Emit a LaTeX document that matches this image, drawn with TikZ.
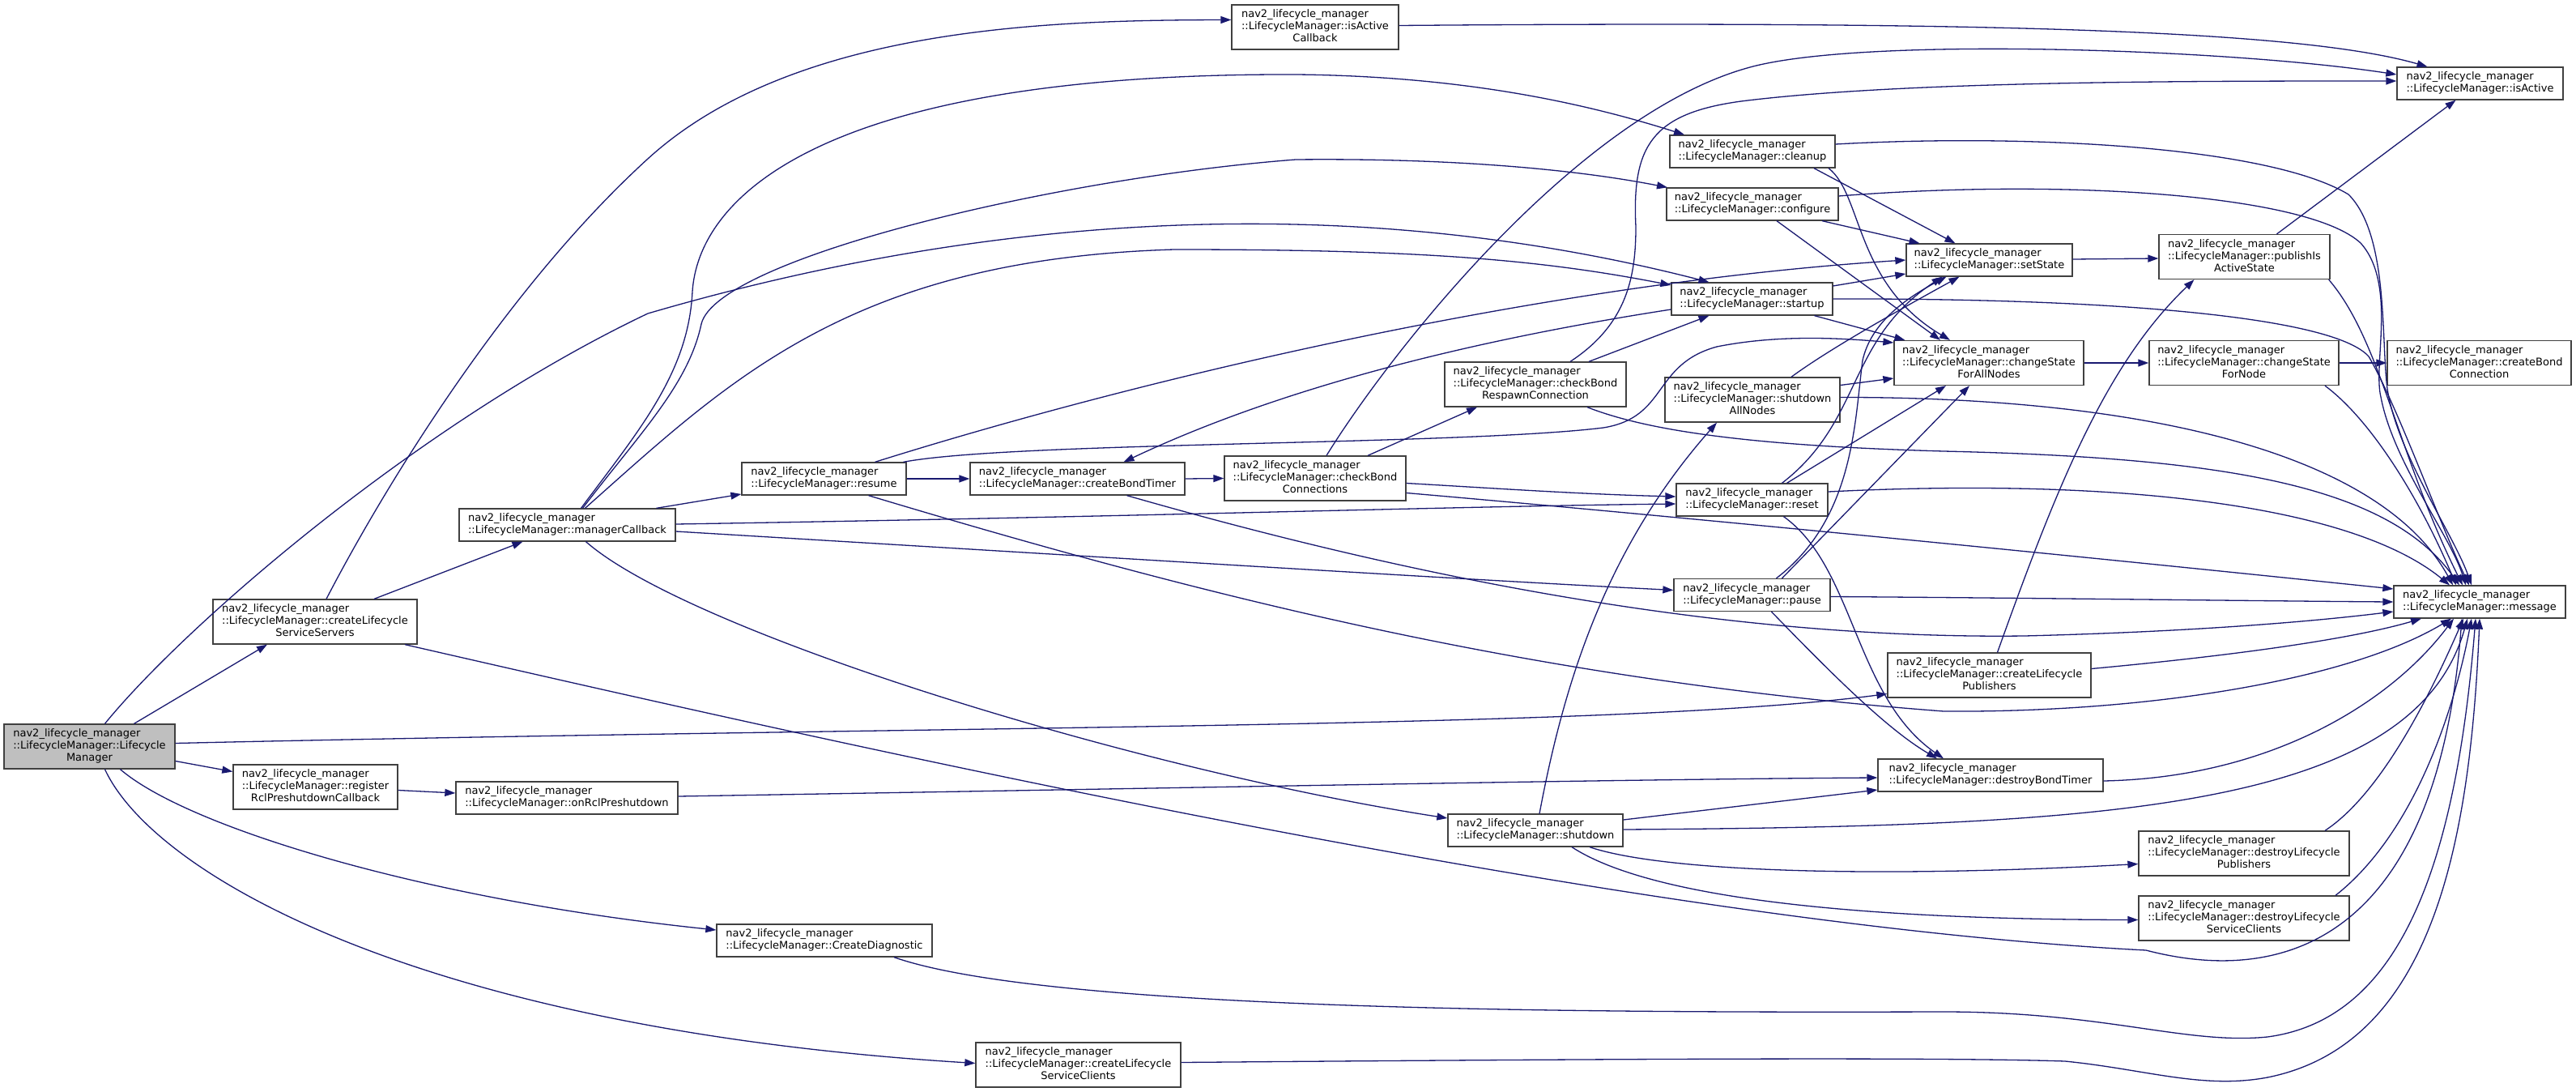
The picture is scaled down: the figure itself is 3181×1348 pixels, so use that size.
\documentclass[tikz,border=0pt]{standalone}
\usepackage{fontspec}
\newfontfamily\dfont{DejaVu Sans}
\usetikzlibrary{arrows.meta}
\definecolor{edgec}{HTML}{191970}
\definecolor{boxc}{HTML}{404040}
\definecolor{lmgray}{HTML}{BFBFBF}
\newcommand\twol[1]{\begin{tabular}{@{}l@{}}nav2\_lifecycle\_manager\\#1\end{tabular}}
\newcommand\threel[2]{\begin{tabular}{@{}l@{}}nav2\_lifecycle\_manager\\#1\\\multicolumn{1}{@{}c@{}}{#2}\end{tabular}}
\tikzset{
  fn/.style={draw=boxc, fill=white, line width=1.3pt, inner sep=0pt, minimum height=40pt,
             font=\dfont\fontsize{13}{15}\selectfont},
  fn3/.style={fn, minimum height=55pt},
  e/.style={draw=edgec, line width=1.3pt, -{Triangle[length=13pt,width=9pt]}}
}
\begin{document}
\begin{tikzpicture}[x=1pt,y=-1pt]
\fill[white] (0,0) rectangle (3181,1348);
\useasboundingbox (0,0) rectangle (3181,1348);

% nodes
\node[fn3, fill=lmgray, minimum width=211pt] (lm) at (110.5,921.5) {\threel{::LifecycleManager::Lifecycle}{Manager}};
\node[fn3, minimum width=252pt] (clss) at (389,767.5) {\threel{::LifecycleManager::createLifecycle}{ServiceServers}};
\node[fn3, minimum width=203pt] (reg) at (389.5,971.5) {\threel{::LifecycleManager::register}{RclPreshutdownCallback}};
\node[fn, minimum width=274pt] (onrcl) at (700,985) {\twol{::LifecycleManager::onRclPreshutdown}};
\node[fn, minimum width=266pt] (cdiag) at (1018,1161) {\twol{::LifecycleManager::CreateDiagnostic}};
\node[fn3, minimum width=253pt] (clsc) at (1331.5,1314.5) {\threel{::LifecycleManager::createLifecycle}{ServiceClients}};
\node[fn, minimum width=267pt] (mcb) at (700.5,648) {\twol{::LifecycleManager::managerCallback}};
\node[fn3, minimum width=206pt] (iacb) at (1624,33.5) {\threel{::LifecycleManager::isActive}{Callback}};
\node[fn, minimum width=203pt] (resume) at (1017.5,591) {\twol{::LifecycleManager::resume}};
\node[fn, minimum width=265pt] (cbt) at (1330.5,591) {\twol{::LifecycleManager::createBondTimer}};
\node[fn3, minimum width=224pt] (cbc) at (1624,590.5) {\threel{::LifecycleManager::checkBond}{Connections}};
\node[fn3, minimum width=224pt] (cbrc) at (1896,474.5) {\threel{::LifecycleManager::checkBond}{RespawnConnection}};
\node[fn, minimum width=204pt] (cleanup) at (2164,187) {\twol{::LifecycleManager::cleanup}};
\node[fn, minimum width=212pt] (configure) at (2164,252) {\twol{::LifecycleManager::configure}};
\node[fn, minimum width=199pt] (startup) at (2163.5,369) {\twol{::LifecycleManager::startup}};
\node[fn3, minimum width=216pt] (sdan) at (2164,493.5) {\threel{::LifecycleManager::shutdown}{AllNodes}};
\node[fn, minimum width=187pt] (reset) at (2163.5,617) {\twol{::LifecycleManager::reset}};
\node[fn, minimum width=193pt] (pause) at (2163.5,734.5) {\twol{::LifecycleManager::pause}};
\node[fn, minimum width=216pt] (shutdown) at (1896,1025) {\twol{::LifecycleManager::shutdown}};
\node[fn3, minimum width=251pt] (clp) at (2456.5,833.5) {\threel{::LifecycleManager::createLifecycle}{Publishers}};
\node[fn, minimum width=278pt] (dbt) at (2458,957) {\twol{::LifecycleManager::destroyBondTimer}};
\node[fn, minimum width=205pt] (setstate) at (2456.5,321) {\twol{::LifecycleManager::setState}};
\node[fn3, minimum width=234pt] (chall) at (2456,448) {\threel{::LifecycleManager::changeState}{ForAllNodes}};
\node[fn3, minimum width=211pt] (pias) at (2771.5,317) {\threel{::LifecycleManager::publishIs}{ActiveState}};
\node[fn3, minimum width=234pt] (chnode) at (2771,448) {\threel{::LifecycleManager::changeState}{ForNode}};
\node[fn3, minimum width=227pt] (cbcon) at (3061.5,448) {\threel{::LifecycleManager::createBond}{Connection}};
\node[fn, minimum width=205pt] (isactive) at (3062.5,103) {\twol{::LifecycleManager::isActive}};
\node[fn, minimum width=212pt] (msg) at (3062,743) {\twol{::LifecycleManager::message}};
\node[fn3, minimum width=260pt] (dlp) at (2771,1053.5) {\threel{::LifecycleManager::destroyLifecycle}{Publishers}};
\node[fn3, minimum width=260pt] (dlsc) at (2771,1133.5) {\threel{::LifecycleManager::destroyLifecycle}{ServiceClients}};

% edges from LifecycleManager
\draw[e] ([xshift=55pt]lm.north) -- ([xshift=-59pt]clss.south);
\draw[e] ([xshift=19pt]lm.north) .. controls (230,770) and (520,520) .. (800,387)
   .. controls (1200,270) and (1650,230) .. ([xshift=-53pt]startup.north);
\draw[e] ([yshift=-18pt]lm.east) -- ([yshift=19pt]reg.west);
\draw[e] ([xshift=38pt]lm.south) .. controls (230,1020) and (520,1110) .. ([yshift=13pt]cdiag.west);
\draw[e] ([xshift=19pt]lm.south) .. controls (190,1080) and (520,1270) .. ([yshift=2pt]clsc.west);
\draw[e] ([yshift=4pt]lm.east) .. controls (1200,895) and (2000,900) .. ([yshift=-23pt]clp.west);

\draw[e] ([yshift=-4pt]reg.east) -- ([yshift=6pt]onrcl.west);
\draw[e] ([yshift=2pt]onrcl.east) .. controls (1500,972) and (2000,962) .. ([yshift=-3pt]dbt.west);

% createLifecycleServiceServers
\draw[e] ([xshift=14pt]clss.north) .. controls (470,610) and (620,360) .. (800,196)
   .. controls (980,32) and (1300,25) .. ([yshift=9pt]iacb.west);
\draw[e] ([xshift=73pt]clss.north) -- ([xshift=-55pt]mcb.south);
\draw[e] ([xshift=111pt]clss.south) .. controls (1000,910) and (2000,1140) .. (2650,1173)
   .. controls (2830,1220) and (3010,1150) .. ([xshift=-22pt]msg.south);

% managerCallback
\draw[e] ([xshift=110pt]mcb.north) -- ([yshift=-19pt]resume.west);
\draw[e] ([xshift=17pt]mcb.north) .. controls (790,530) and (850,460) .. (855,360)
   .. controls (862,250) and (1000,90) .. (1600,92)
   .. controls (1800,94) and (1950,125) .. ([xshift=-84pt]cleanup.north);
\draw[e] ([xshift=19pt]mcb.north) .. controls (790,535) and (850,475) .. (866,400)
   .. controls (885,320) and (1300,220) .. (1600,197)
   .. controls (1800,195) and (1950,210) .. ([xshift=-105pt]configure.north);
\draw[e] ([xshift=22pt]mcb.north) .. controls (900,470) and (1050,320) .. (1450,308)
   .. controls (1750,308) and (1900,320) .. ([yshift=17pt]startup.west);
\draw[e] ([yshift=1pt]mcb.east) .. controls (1400,638) and (1800,625) .. ([yshift=-5pt]reset.west);
\draw[e] ([yshift=-8pt]mcb.east) .. controls (1400,690) and (1800,715) .. ([yshift=6pt]pause.west);
\draw[e] ([xshift=23pt]mcb.south) .. controls (850,780) and (1400,950) .. ([yshift=15pt]shutdown.west);

% resume
\draw[e] (resume.east) -- (cbt.west);
\draw[e] ([xshift=63pt]resume.north) .. controls (1400,470) and (1900,350) .. (setstate.west);
\draw[e] ([xshift=98pt]resume.north) .. controls (1250,545) and (1800,550) .. (1980,528)
   .. controls (2060,515) and (2040,450) .. (2120,428)
   .. controls (2200,412) and (2280,418) .. ([yshift=25pt]chall.west);
\draw[e] ([xshift=55pt]resume.south) .. controls (1500,740) and (1900,840) .. (2400,878)
   .. controls (2650,880) and (2900,840) .. ([xshift=-35pt]msg.south);

% createBondTimer
\draw[e] (cbt.east) -- (cbc.west);
\draw[e] ([xshift=61pt]cbt.south) .. controls (1700,700) and (2100,790) .. (2500,785)
   .. controls (2700,780) and (2850,768) .. ([yshift=-12pt]msg.west);

% checkBondConnections
\draw[e] ([xshift=65pt]cbc.north) -- ([xshift=-72pt]cbrc.south);
\draw[e] ([xshift=14pt]cbc.north) .. controls (1720,430) and (1950,140) .. (2161,83)
   .. controls (2300,45) and (2750,60) .. ([yshift=11pt]isactive.west);
\draw[e] ([yshift=-6pt]cbc.east) .. controls (1850,603) and (1950,610) .. ([yshift=4pt]reset.west);
\draw[e] ([yshift=-18pt]cbc.east) .. controls (2100,640) and (2600,690) .. ([yshift=16pt]msg.west);

% checkBondRespawnConnection
\draw[e] ([xshift=43pt]cbrc.north) .. controls (2010,400) and (2020,340) .. (2020,280)
   .. controls (2015,180) and (2040,140) .. (2150,125)
   .. controls (2350,100) and (2700,100) .. ([yshift=3pt]isactive.west);
\draw[e] ([xshift=66pt]cbrc.north) -- ([xshift=-53pt]startup.south);
\draw[e] ([xshift=64pt]cbrc.south) .. controls (2030,530) and (2150,550) .. (2400,557)
   .. controls (2750,565) and (2950,600) .. ([xshift=-25pt]msg.north);

% startup
\draw[e] ([yshift=-13pt]startup.west) .. controls (1850,415) and (1600,470) .. ([xshift=57pt]cbt.north);
\draw[e] ([yshift=16pt]startup.east) -- ([yshift=-17pt]setstate.west);
\draw[e] ([xshift=77pt]startup.south) -- ([xshift=14pt]chall.north west);
\draw[e] (startup.east) .. controls (2600,368) and (2880,390) .. (2925,440)
   .. controls (2960,500) and (3010,640) .. ([xshift=-13pt]msg.north);

% cleanup
\draw[e] ([xshift=76pt]cleanup.south) -- ([xshift=-42pt]setstate.north);
\draw[e] ([xshift=94pt]cleanup.south) .. controls (2300,240) and (2290,350) .. ([xshift=-48pt]chall.north);
\draw[e] ([yshift=9pt]cleanup.east) .. controls (2500,165) and (2800,180) .. (2900,240)
   .. controls (2950,290) and (2940,420) .. (2948,480)
   .. controls (2960,560) and (3030,660) .. ([xshift=-10pt]msg.north);

% configure
\draw[e] ([xshift=86pt]configure.south) -- ([xshift=-86pt]setstate.north);
\draw[e] ([xshift=30pt]configure.south) -- ([xshift=-60pt]chall.north);
\draw[e] ([yshift=10pt]configure.east) .. controls (2550,220) and (2850,240) .. (2915,300)
   .. controls (2960,350) and (2930,450) .. (2940,490)
   .. controls (2955,570) and (3025,660) .. ([xshift=-17pt]msg.north);

% shutdownAllNodes
\draw[e] ([yshift=18pt]sdan.east) -- ([yshift=-19pt]chall.west);
\draw[e] ([xshift=48pt]sdan.north) .. controls (2260,430) and (2350,380) .. ([xshift=-37pt]setstate.south);
\draw[e] ([yshift=3pt]sdan.east) .. controls (2650,490) and (2940,560) .. ([xshift=-33pt]msg.north);

% reset
\draw[e] ([xshift=37pt]reset.north) .. controls (2300,520) and (2280,420) .. ([xshift=-58pt]setstate.south);
\draw[e] ([xshift=43pt]reset.north) -- ([xshift=-53pt]chall.south);
\draw[e] ([yshift=10pt]reset.east) .. controls (2600,590) and (2900,620) .. ([xshift=-37pt]msg.north);
\draw[e] ([xshift=39pt]reset.south) .. controls (2290,700) and (2290,860) .. ([xshift=-58pt]dbt.north);

% pause
\draw[e] ([xshift=30pt]pause.north) .. controls (2290,640) and (2290,520) .. (2300,445)
   .. controls (2310,400) and (2350,370) .. ([xshift=-53pt]setstate.south);
\draw[e] ([xshift=37pt]pause.north) -- ([xshift=-24pt]chall.south);
\draw[e] ([yshift=-2pt]pause.east) .. controls (2500,738) and (2800,742) .. (msg.west);
\draw[e] ([xshift=24pt]pause.south) .. controls (2260,830) and (2330,900) .. ([xshift=-66pt]dbt.north);

% shutdown
\draw[e] ([xshift=5pt]shutdown.north) .. controls (1930,850) and (1980,680) .. ([xshift=-44pt]sdan.south);
\draw[e] ([yshift=13pt]shutdown.east) -- ([yshift=-18pt]dbt.west);
\draw[e] ([yshift=1pt]shutdown.east) .. controls (2600,1020) and (2980,1000) .. ([xshift=-15pt]msg.south);
\draw[e] ([xshift=67pt]shutdown.south) .. controls (2050,1075) and (2300,1085) .. ([yshift=-13pt]dlp.west);
\draw[e] ([xshift=45pt]shutdown.south) .. controls (2040,1110) and (2300,1135) .. ([yshift=-2pt]dlsc.west);

% right side
\draw[e] ([yshift=8pt]clp.east) .. controls (2750,810) and (2900,790) .. ([xshift=-72pt]msg.south);
\draw[e] ([xshift=10pt]clp.north) .. controls (2540,600) and (2600,450) .. ([xshift=-62pt]pias.south);
\draw[e] ([xshift=40pt]pias.north) -- ([xshift=-30pt]isactive.south);
\draw[e] ([xshift=-2pt]pias.south east) .. controls (2940,420) and (2960,560) .. ([xshift=-21pt]msg.north);
\draw[e] ([yshift=1pt]setstate.east) -- ([yshift=-2pt]pias.west);
\draw[e] (chall.east) -- (chnode.west);
\draw[e] (chnode.east) -- (cbcon.west);
\draw[e] ([xshift=100pt]chnode.south) .. controls (2930,520) and (2990,620) .. ([xshift=-29pt]msg.north);
\draw[e] ([yshift=2pt]iacb.east) .. controls (2500,25) and (2850,40) .. ([xshift=-65pt]isactive.north);
\draw[e] ([yshift=-7pt]dbt.east) .. controls (2800,960) and (2950,870) .. ([xshift=-32pt]msg.south);
\draw[e] ([xshift=100pt]dlp.north) .. controls (2940,980) and (3000,860) .. ([xshift=-20pt]msg.south);
\draw[e] ([xshift=113pt]dlsc.north) .. controls (2980,1030) and (3030,880) .. ([xshift=-10pt]msg.south);
\draw[e] ([xshift=86pt]cdiag.south) .. controls (1300,1250) and (2000,1250) .. (2400,1249)
   .. controls (2600,1249) and (2700,1290) .. (2800,1280)
   .. controls (2950,1260) and (3030,1100) .. ([xshift=-5pt]msg.south);
\draw[e] ([yshift=3pt]clsc.east) .. controls (2000,1307) and (2400,1305) .. (2550,1310)
   .. controls (2650,1320) and (2720,1345) .. (2800,1330)
   .. controls (3000,1290) and (3050,1050) .. (msg.south);
\end{tikzpicture}
\end{document}
